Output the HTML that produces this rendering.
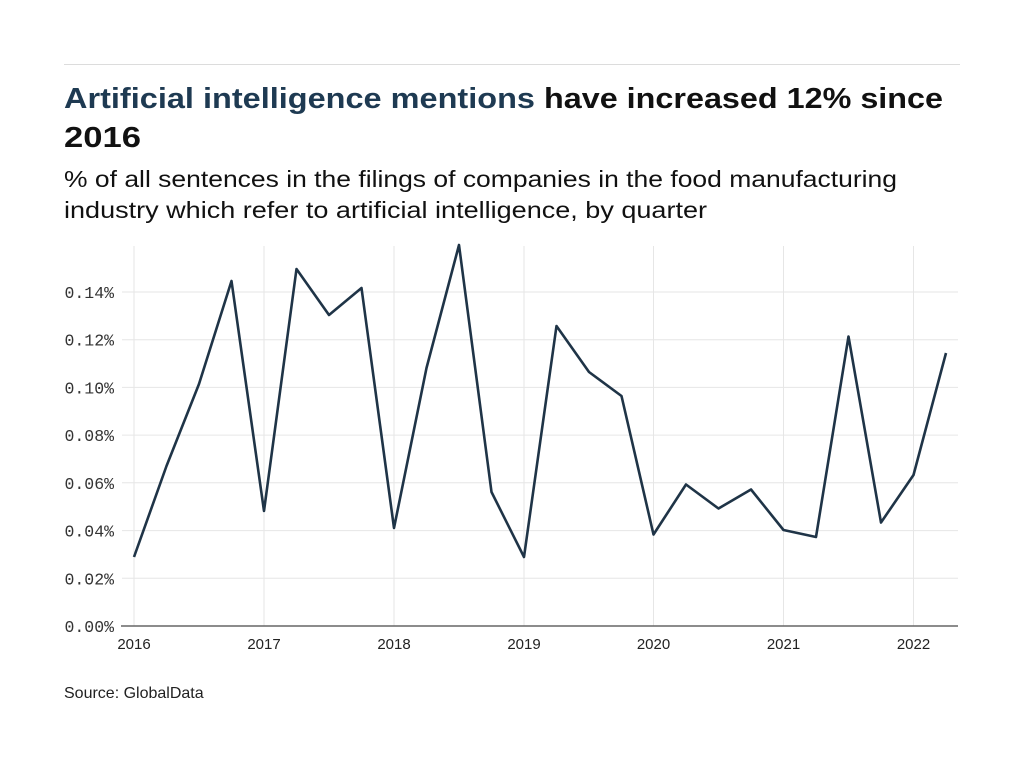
<!DOCTYPE html>
<html>
<head>
<meta charset="utf-8">
<style>
html,body{margin:0;padding:0;background:#fff;}
svg{display:block;}
</style>
</head>
<body>
<svg width="1024" height="768" viewBox="0 0 1024 768" xmlns="http://www.w3.org/2000/svg">
<rect width="1024" height="768" fill="#fff"/>
<line x1="64" y1="64.5" x2="960" y2="64.5" stroke="#dcdcdc" stroke-width="1"/>
<text x="64" y="108" font-family="Liberation Sans, sans-serif" font-weight="bold" font-size="29" fill="#1e3a52" textLength="471" lengthAdjust="spacingAndGlyphs">Artificial intelligence mentions</text>
<text x="544" y="108" font-family="Liberation Sans, sans-serif" font-weight="bold" font-size="29" fill="#111" textLength="399" lengthAdjust="spacingAndGlyphs">have increased 12% since</text>
<text x="64" y="147" font-family="Liberation Sans, sans-serif" font-weight="bold" font-size="29" fill="#111" textLength="77" lengthAdjust="spacingAndGlyphs">2016</text>
<text x="64" y="187" font-family="Liberation Sans, sans-serif" font-size="23" fill="#111" textLength="833" lengthAdjust="spacingAndGlyphs">% of all sentences in the filings of companies in the food manufacturing</text>
<text x="64" y="218" font-family="Liberation Sans, sans-serif" font-size="23" fill="#111" textLength="643" lengthAdjust="spacingAndGlyphs">industry which refer to artificial intelligence, by quarter</text>

<g stroke="#e6e6e6" stroke-width="1">
<line x1="122" y1="578.3" x2="958" y2="578.3"/>
<line x1="122" y1="530.6" x2="958" y2="530.6"/>
<line x1="122" y1="482.8" x2="958" y2="482.8"/>
<line x1="122" y1="435.1" x2="958" y2="435.1"/>
<line x1="122" y1="387.4" x2="958" y2="387.4"/>
<line x1="122" y1="339.7" x2="958" y2="339.7"/>
<line x1="122" y1="292" x2="958" y2="292"/>
<line x1="134" y1="246" x2="134" y2="626"/>
<line x1="264" y1="246" x2="264" y2="626"/>
<line x1="394" y1="246" x2="394" y2="626"/>
<line x1="524" y1="246" x2="524" y2="626"/>
<line x1="653.5" y1="246" x2="653.5" y2="626"/>
<line x1="783.5" y1="246" x2="783.5" y2="626"/>
<line x1="913.5" y1="246" x2="913.5" y2="626"/>
</g>
<line x1="121" y1="626" x2="958" y2="626" stroke="#666" stroke-width="1.5"/>

<g font-family="Liberation Mono, monospace" font-size="16.5" fill="#333" text-anchor="end">
<text x="114" y="632">0.00%</text>
<text x="114" y="584.3">0.02%</text>
<text x="114" y="536.6">0.04%</text>
<text x="114" y="488.8">0.06%</text>
<text x="114" y="441.1">0.08%</text>
<text x="114" y="393.4">0.10%</text>
<text x="114" y="345.7">0.12%</text>
<text x="114" y="298">0.14%</text>
</g>
<g font-family="Liberation Sans, sans-serif" font-size="15" fill="#222" text-anchor="middle">
<text x="134" y="649">2016</text>
<text x="264" y="649">2017</text>
<text x="394" y="649">2018</text>
<text x="524" y="649">2019</text>
<text x="653.5" y="649">2020</text>
<text x="783.5" y="649">2021</text>
<text x="913.5" y="649">2022</text>
</g>

<polyline fill="none" stroke="#1f3447" stroke-width="2.6" stroke-linejoin="round" points="134,557 166.5,466 199,384 231.5,281 264,511 296.5,269 329,315 361.5,288 394,528 426.5,368 459,245 491.5,492 524,557 556.5,326 589,372 621.5,396 653.5,534.5 686,484.5 718.5,508.5 751,489.5 783.5,530 816,537 848.5,336.5 881,522.5 913.5,475 946,353"/>

<text x="64" y="698" font-family="Liberation Sans, sans-serif" font-size="16" fill="#222">Source: GlobalData</text>
</svg>
</body>
</html>
